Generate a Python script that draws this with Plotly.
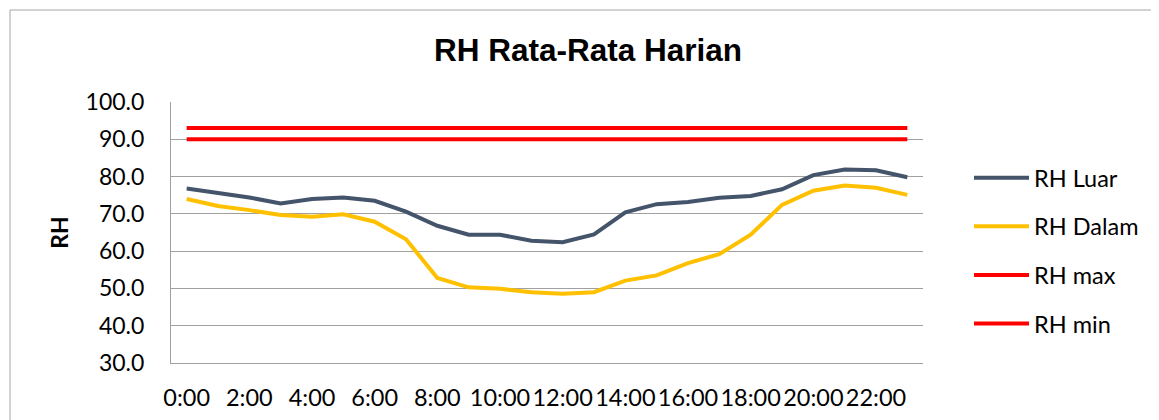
import plotly.graph_objects as go

hours = ["0:00", "1:00", "2:00", "3:00", "4:00", "5:00", "6:00", "7:00",
         "8:00", "9:00", "10:00", "11:00", "12:00", "13:00", "14:00", "15:00",
         "16:00", "17:00", "18:00", "19:00", "20:00", "21:00", "22:00", "23:00"]
tick_hours = ["0:00", "2:00", "4:00", "6:00", "8:00", "10:00",
              "12:00", "14:00", "16:00", "18:00", "20:00", "22:00"]

rh_luar = [76.8, 75.7, 74.4, 72.8, 74.0, 74.4, 73.5, 70.6, 66.8, 64.4, 64.4, 62.8,
           62.4, 64.5, 70.4, 72.6, 73.2, 74.3, 74.8, 76.6, 80.4, 81.9, 81.7, 79.8]
rh_dalam = [74.0, 72.1, 71.0, 69.7, 69.2, 69.9, 67.9, 63.2, 52.8, 50.3, 49.9, 49.0,
            48.6, 49.0, 52.1, 53.5, 56.8, 59.2, 64.4, 72.4, 76.2, 77.6, 77.0, 75.1]
rh_max = [93.0] * 24
rh_min = [90.0] * 24

# page has an 8px body margin; figure coordinates = page - 8
W, H = 1151, 412
L, R, T, B = 163, W - 915, 94, H - 355
pw, ph = W - L - R, H - T - B

fig = go.Figure()
series = [("RH Luar", rh_luar, "#44546A"), ("RH Dalam", rh_dalam, "#FFC000"),
          ("RH max", rh_max, "#FF0000"), ("RH min", rh_min, "#FF0000")]
for name, vals, col in series:
    fig.add_trace(go.Scatter(x=hours, y=vals, name=name, mode="lines",
                             line=dict(color=col, width=4), legendgroup=name))

font = "Lato, 'Open Sans', sans-serif"
fig.update_layout(
    width=W, height=H,
    margin=dict(l=L, r=R, t=T, b=B, autoexpand=False),
    paper_bgcolor="white", plot_bgcolor="white",
    title=dict(text="<b>RH Rata-Rata Harian</b>", x=580 / W, xanchor="center",
               y=1 - 42 / H, yanchor="middle", xref="container", yref="container",
               font=dict(family="'Liberation Sans', Arial, sans-serif", size=31.5, color="#000000")),
    legend=dict(x=(961 - L) / pw, y=(355 - 148) / ph, xanchor="left", yanchor="top",
                font=dict(family=font, size=23.5, color="#000000"),
                itemwidth=55,
                tracegroupgap=15, bgcolor="rgba(0,0,0,0)"),
    showlegend=True,
    shapes=[dict(type="rect", xref="paper", yref="paper",
                 x0=(2 - L) / pw, x1=(1175 - L) / pw,
                 y0=(355 - 440) / ph, y1=(355 - 2) / ph,
                 line=dict(color="#A6A6A6", width=1), layer="below")],
)
fig.update_xaxes(type="category", categoryorder="array", categoryarray=hours,
                 range=[-0.5, len(hours) - 0.5], automargin=False,
                 tickmode="array", tickvals=tick_hours, ticktext=tick_hours,
                 tickangle=0, showgrid=False, showline=True, linecolor="#A0A0A0",
                 linewidth=1, ticks="", ticklabelstandoff=14,
                 tickfont=dict(family=font, size=23.5, color="#000000"))
fig.update_yaxes(range=[30, 100], dtick=10, tick0=30, tickformat=".1f",
                 automargin=False,
                 showgrid=True, gridcolor="#A0A0A0", gridwidth=1,
                 showline=True, linecolor="#A0A0A0", linewidth=1, zeroline=False,
                 ticks="", ticklabelstandoff=21,
                 tickfont=dict(family=font, size=23, color="#000000"),
                 title=dict(text="<b>RH</b>", standoff=10,
                            font=dict(family=font, size=23, color="#000000")))

fig.write_html("out.html")
